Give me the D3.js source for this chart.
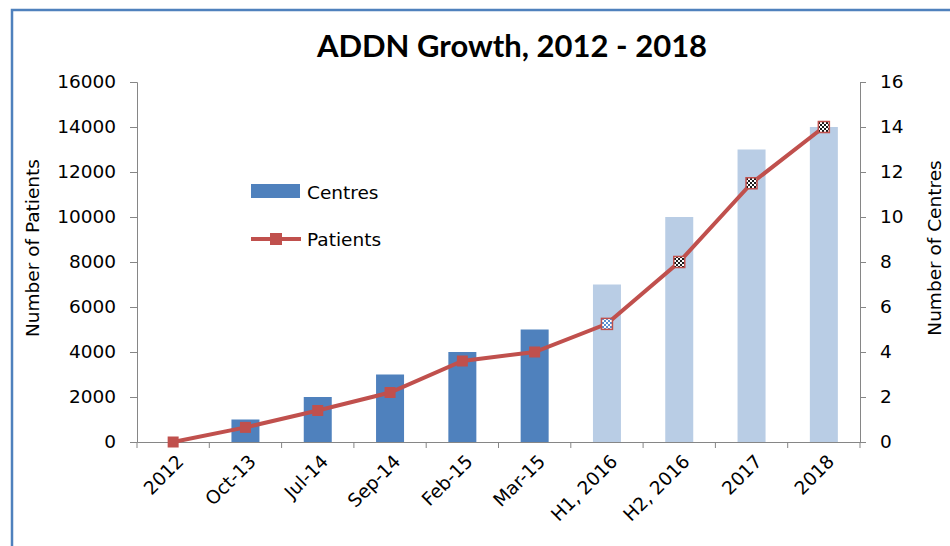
<!DOCTYPE html>
<html lang="en">
  <head>
    <meta charset="UTF-8" />
    <title>ADDN Growth</title>
    <style>
      body { margin: 0; background: #fff; }
      .tick text { font-family: "DejaVu Sans", sans-serif; font-size: 18.5px; fill: #000; }
      .axis path, .axis line { stroke: #868686; }
    </style>
    <script src="https://d3js.org/d3.v7.min.js"></script>
  </head>
  <body>
    <div id="chart"></div>
    <script>
      const categories = ["2012", "Oct-13", "Jul-14", "Sep-14", "Feb-15", "Mar-15", "H1, 2016", "H2, 2016", "2017", "2018"];
      const centres = [0, 1, 2, 3, 4, 5, 7, 10, 13, 14];
      const patients = [0, 650, 1400, 2200, 3600, 4000, 5250, 8000, 11500, 14000];
      // 0 = actual, 1 = near-term target, 2 = longer-term target
      const status = [0, 0, 0, 0, 0, 0, 1, 2, 2, 2];
      const leftTicks = [0, 2000, 4000, 6000, 8000, 10000, 12000, 14000, 16000];
      const rightTicks = [0, 2, 4, 6, 8, 10, 12, 14, 16];

      const W = 950, H = 546;
      const plot = { left: 137, right: 860, top: 82, bottom: 442 };
      const font = "DejaVu Sans, sans-serif";

      const svg = d3.select("#chart").append("svg")
        .attr("width", W).attr("height", H);

      const defs = svg.append("defs");
      function checker(id, c1, c2) {
        const p = defs.append("pattern").attr("id", id)
          .attr("width", 4).attr("height", 4)
          .attr("patternUnits", "userSpaceOnUse");
        p.append("rect").attr("width", 4).attr("height", 4).attr("fill", c2);
        p.append("rect").attr("width", 2).attr("height", 2).attr("fill", c1);
        p.append("rect").attr("x", 2).attr("y", 2).attr("width", 2).attr("height", 2).attr("fill", c1);
      }
      checker("chkBlue", "#5b8fd0", "#ffffff");
      checker("chkDark", "#1a1a1a", "#ffffff");

      // frame
      svg.append("path")
        .attr("d", `M12,${H} L12,10 L${W},10`)
        .attr("fill", "none").attr("stroke", "#4f81bd").attr("stroke-width", 2.5);

      const x = d3.scaleBand().domain(categories).range([plot.left, plot.right]).padding(0);
      const yL = d3.scaleLinear().domain([0, 16000]).range([plot.bottom, plot.top]);
      const yR = d3.scaleLinear().domain([0, 16]).range([plot.bottom, plot.top]);

      const barW = 28;
      const barColor = ["#4f81bd", "#b9cde5", "#b9cde5"];
      svg.append("g").selectAll("rect").data(categories).join("rect")
        .attr("x", d => x(d) + x.bandwidth() / 2 - barW / 2)
        .attr("y", (d, i) => yR(centres[i]))
        .attr("width", barW)
        .attr("height", (d, i) => plot.bottom - yR(centres[i]))
        .attr("fill", (d, i) => barColor[status[i]]);

      // axes
      svg.append("g").attr("class", "axis")
        .attr("transform", `translate(${plot.left},0)`)
        .call(d3.axisLeft(yL).tickValues(leftTicks).tickFormat(d3.format("d"))
          .tickSize(7).tickSizeOuter(7).tickPadding(14));
      svg.append("g").attr("class", "axis")
        .attr("transform", `translate(${plot.right},0)`)
        .call(d3.axisRight(yR).tickValues(rightTicks).tickSize(6).tickSizeOuter(6).tickPadding(14));
      const axB = svg.append("g").attr("class", "axis")
        .attr("transform", `translate(0,${plot.bottom})`)
        .call(d3.axisBottom(x).tickSize(0).tickSizeOuter(0).tickFormat(""));
      // category boundary ticks
      const bounds = categories.map(d => x(d)).concat([plot.right]);
      axB.selectAll(".bt").data(bounds).join("line")
        .attr("x1", d => d).attr("x2", d => d).attr("y1", 0).attr("y2", 6)
        .attr("stroke", "#868686");
      axB.selectAll(".lbl").data(categories).join("text")
        .attr("transform", d => `translate(${x(d) + x.bandwidth() / 2 + 7},${16}) rotate(-45)`)
        .attr("text-anchor", "end")
        .attr("dy", "0.35em")
        .attr("fill", "#000")
        .style("font-family", font)
        .style("font-size", "18.5px")
        .text(d => d);

      // patients line
      const line = d3.line()
        .x((d, i) => x(categories[i]) + x.bandwidth() / 2)
        .y(d => yL(d));
      svg.append("path").datum(patients)
        .attr("d", line)
        .attr("fill", "none").attr("stroke", "#c0504d").attr("stroke-width", 4);

      const mk = 11;
      const markerFill = ["#c0504d", "url(#chkBlue)", "url(#chkDark)"];
      svg.append("g").selectAll("rect").data(patients).join("rect")
        .attr("x", (d, i) => x(categories[i]) + x.bandwidth() / 2 - mk / 2)
        .attr("y", d => yL(d) - mk / 2)
        .attr("width", mk).attr("height", mk)
        .attr("fill", (d, i) => markerFill[status[i]])
        .attr("stroke", "#c0504d").attr("stroke-width", (d, i) => status[i] ? 1.5 : 0);

      // title
      svg.append("text")
        .attr("x", 512).attr("y", 57)
        .attr("text-anchor", "middle")
        .style("font-family", "Lato, sans-serif")
        .style("font-weight", "bold")
        .style("font-size", "31px")
        .text("ADDN Growth, 2012 - 2018");

      // axis titles
      svg.append("text")
        .attr("transform", "translate(39,248) rotate(-90)")
        .attr("text-anchor", "middle")
        .style("font-family", font)
        .style("font-size", "18.5px")
        .text("Number  of Patients");
      svg.append("text")
        .attr("transform", "translate(941,248) rotate(-90)")
        .attr("text-anchor", "middle")
        .style("font-family", font)
        .style("font-size", "18.5px")
        .text("Number  of Centres");

      // legend
      const lg = svg.append("g");
      lg.append("rect").attr("x", 251).attr("y", 184).attr("width", 49).attr("height", 14).attr("fill", "#4f81bd");
      lg.append("text").attr("x", 307).attr("y", 199)
        .style("font-family", font).style("font-size", "18.5px").text("Centres");
      lg.append("line").attr("x1", 251).attr("x2", 301).attr("y1", 239).attr("y2", 239)
        .attr("stroke", "#c0504d").attr("stroke-width", 4);
      lg.append("rect").attr("x", 270).attr("y", 233).attr("width", 12).attr("height", 12).attr("fill", "#c0504d");
      lg.append("text").attr("x", 307).attr("y", 246)
        .style("font-family", font).style("font-size", "18.5px").text("Patients");
    </script>
  </body>
</html>
